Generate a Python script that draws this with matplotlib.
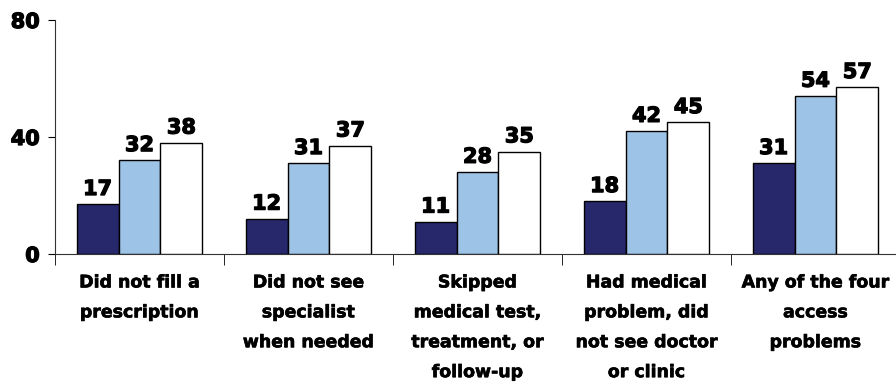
import numpy as np
from matplotlib import pyplot as plt
import matplotlib.patheffects as pe

# categories and values
categories = ['Did not fill a\nprescription',
              'Did not see\nspecialist\nwhen needed',
              'Skipped\nmedical test,\ntreatment, or\nfollow-up',
              'Had medical\nproblem, did\nnot see doctor\nor clinic',
              'Any of the four\naccess\nproblems']
series_a = [17, 12, 11, 18, 31]
series_b = [32, 31, 28, 42, 54]
series_c = [38, 37, 35, 45, 57]
y_ticks = [0, 40, 80]

colors = ['#27276B', '#9DC3E6', '#FFFFFF']

plt.rcParams['font.family'] = ['DejaVu Sans']
plt.rcParams['font.weight'] = 'bold'
# thicken the text a little, the original uses a black-weight face
heavy = [pe.withStroke(linewidth=0.9, foreground='black')]
heavy_small = [pe.withStroke(linewidth=0.45, foreground='black')]

fig = plt.figure(figsize=(8.96, 3.85), dpi=100)
ax = fig.add_axes([55 / 896, 1 - 254 / 385, 1 - 55 / 896, (254 - 20) / 385])

x = np.arange(len(categories))
w = 0.248
for k, (vals, c) in enumerate(zip([series_a, series_b, series_c], colors)):
    pos = x + (k - 1) * w
    ax.bar(pos, vals, width=w, color=c, edgecolor='black', linewidth=1.0, zorder=3)
    for p, v in zip(pos, vals):
        ax.text(p, v + 1.8, str(v), ha='center', va='bottom', fontsize=15,
                fontweight='bold', path_effects=heavy)

ax.set_xlim(-0.5, 4.5 - 4 / 169)
ax.set_ylim(0, 80)
ax.set_yticks(y_ticks)
ax.tick_params(axis='y', length=5, labelsize=15, pad=6)
for t in ax.get_yticklabels():
    t.set_path_effects(heavy)

ax.set_xticks(x)
ax.set_xticklabels(categories, fontsize=12.5, fontweight='bold', linespacing=1.85, va='top')
for t in ax.get_xticklabels():
    t.set_path_effects(heavy_small)
ax.set_xticks(np.arange(len(categories)) - 0.5, minor=True)
ax.tick_params(axis='x', which='major', length=0, pad=14)
ax.tick_params(axis='x', which='minor', length=8, direction='out')

for s in ['top', 'right']:
    ax.spines[s].set_visible(False)
for s in ['left', 'bottom']:
    ax.spines[s].set_color('#333333')

plt.savefig('out.png', dpi=100)
